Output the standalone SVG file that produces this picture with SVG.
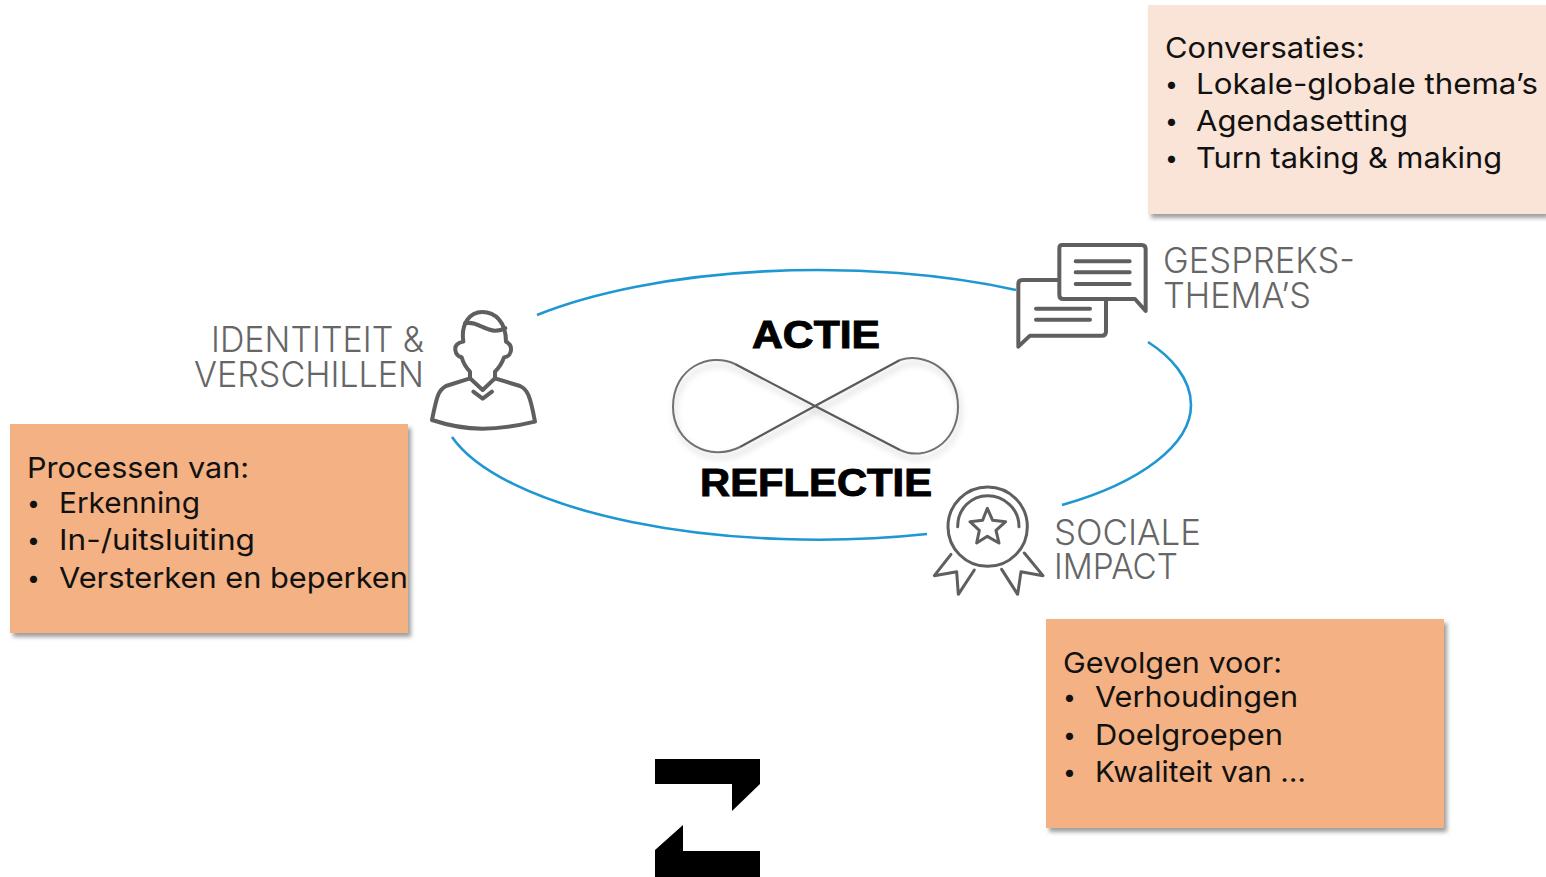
<svg xmlns="http://www.w3.org/2000/svg" width="1546" height="877" viewBox="0 0 1546 877">
<style>
.box{filter:url(#sh)}
.t{font-family:"Inter","Noto Sans",sans-serif;font-size:29px;fill:#111}
.b{font-size:23px}
.g{font-family:"Inter","Noto Sans",sans-serif;font-size:35px;fill:#666;font-weight:300}
.h{font-family:"Liberation Sans",Arial,sans-serif;font-size:39px;font-weight:700;fill:#000;stroke:#000;stroke-width:1}
.i{fill:none;stroke:#5f5f5f;stroke-width:12;stroke-linejoin:round;stroke-linecap:round}
.m{stroke-width:9}
.c{fill:none;stroke:#1f97d2;stroke-width:2.6}
</style>
<defs>
<filter id="sh" x="-5%" y="-5%" width="112%" height="115%"><feDropShadow dx="3" dy="4" stdDeviation="2" flood-color="#000" flood-opacity=".38"/></filter>
<filter id="sh2" x="-5%" y="-5%" width="112%" height="115%"><feDropShadow dx="2" dy="5" stdDeviation="3" flood-color="#000" flood-opacity=".22"/></filter>
</defs>
<g id="connectors">
<path class="c" d="M537 315A378 135.500 0 0 1 1016 290"/>
<path class="c" d="M1148 342C1170 356 1191 378 1191 405C1191 445 1140 483 1062 505"/>
<path class="c" d="M927 534A378 135.500 0 0 1 452 437"/>
</g>
<g id="box-conversaties">
<rect class="box" x="1148" y="5" width="398" height="209" fill="#F9E4D7"/>
<text class="t"><tspan x="1165" y="58" textLength="200" lengthAdjust="spacingAndGlyphs">Conversaties:</tspan><tspan class="b" x="1165" y="92">•</tspan><tspan x="1196" y="94" textLength="342" lengthAdjust="spacingAndGlyphs">Lokale-globale thema’s</tspan><tspan class="b" x="1165" y="129">•</tspan><tspan x="1196" y="131" textLength="212" lengthAdjust="spacingAndGlyphs">Agendasetting</tspan><tspan class="b" x="1165" y="166">•</tspan><tspan x="1196" y="168" textLength="306" lengthAdjust="spacingAndGlyphs">Turn taking &amp; making</tspan></text>
</g>
<g id="box-processen">
<rect class="box" x="10" y="424" width="398" height="209" fill="#F4B183"/>
<text class="t"><tspan x="27" y="478" textLength="222" lengthAdjust="spacingAndGlyphs">Processen van:</tspan><tspan class="b" x="27" y="511">•</tspan><tspan x="59" y="513" textLength="141" lengthAdjust="spacingAndGlyphs">Erkenning</tspan><tspan class="b" x="27" y="548">•</tspan><tspan x="59" y="550" textLength="196" lengthAdjust="spacingAndGlyphs">In-/uitsluiting</tspan><tspan class="b" x="27" y="586">•</tspan><tspan x="59" y="588" textLength="349" lengthAdjust="spacingAndGlyphs">Versterken en beperken</tspan></text>
</g>
<g id="box-gevolgen">
<rect class="box" x="1046" y="619" width="398" height="209" fill="#F4B183"/>
<text class="t"><tspan x="1063" y="673" textLength="219" lengthAdjust="spacingAndGlyphs">Gevolgen voor:</tspan><tspan class="b" x="1063" y="705">•</tspan><tspan x="1095" y="707" textLength="203" lengthAdjust="spacingAndGlyphs">Verhoudingen</tspan><tspan class="b" x="1063" y="743">•</tspan><tspan x="1095" y="745" textLength="188" lengthAdjust="spacingAndGlyphs">Doelgroepen</tspan><tspan class="b" x="1063" y="780">•</tspan><tspan x="1095" y="782" textLength="211" lengthAdjust="spacingAndGlyphs">Kwaliteit van …</tspan></text>
</g>
<g id="node-identiteit">
<text class="g" text-anchor="end"><tspan x="424" y="352" textLength="213" lengthAdjust="spacingAndGlyphs">IDENTITEIT &amp;</tspan><tspan x="424" y="387" textLength="230" lengthAdjust="spacingAndGlyphs">VERSCHILLEN</tspan></text>
<g transform="translate(420 300) scale(.3333)">
<path class="i" d="M130 125C122 70 150 36 187 36C225 36 258 65 258 125C268 130 276 140 272 155C268 170 260 170 252 172C246 190 235 205 225 215L225 235L300 258C322 268 330 285 345 365C290 378 240 386 187 386C135 386 90 378 36 360C50 290 55 270 78 258L150 235L150 215C140 205 130 190 125 172C115 170 108 165 106 150C104 135 115 128 130 125Z"/>
<path class="i" d="M135 70C170 62 190 90 225 92C240 92 250 88 256 84"/>
<path class="i" d="M150 235L188 270L225 235"/>
<path class="i" d="M160 275L188 296L216 275"/>
</g>
</g>
<g id="node-gespreks">
<text class="g"><tspan x="1163" y="273" textLength="192" lengthAdjust="spacingAndGlyphs">GESPREKS-</tspan><tspan x="1163" y="308" textLength="148" lengthAdjust="spacingAndGlyphs">THEMA’S</tspan></text>
<g transform="translate(1005 235) scale(.3333)">
<path class="i" d="M160 135L52 135Q40 135 40 147L40 335L75 302L290 302Q303 302 303 290L303 195"/>
<path class="i" d="M172 30L410 30Q422 30 422 42L422 228L390 192L175 192Q163 192 163 180L163 40Q163 30 172 30Z"/>
<path class="i" d="M212 79H374M212 112H374M212 147H374M93 221H255M93 254H255"/>
</g>
</g>
<g id="node-sociale">
<text class="g"><tspan x="1054" y="545" textLength="147" lengthAdjust="spacingAndGlyphs">SOCIALE</tspan><tspan x="1054" y="579" textLength="124" lengthAdjust="spacingAndGlyphs">IMPACT</tspan></text>
<g transform="translate(925 475) scale(.3333)">
<circle class="i m" cx="188" cy="155" r="119"/>
<path class="i m" d="M98 155C98 100 140 62 188 62C236 62 282 100 282 155"/>
<path class="i m" d="M187 100L203 136L242 140L213 166L222 204L187 184L155 204L163 166L135 140L173 136Z"/>
<path class="i m" d="M78 238L28 302L95 290L100 358L148 285"/>
<path class="i m" d="M298 234L354 302L288 290L278 358L230 283"/>
</g>
</g>
<g id="node-center">
<text class="h" x="752" y="348" textLength="128" lengthAdjust="spacingAndGlyphs">ACTIE</text>
<g fill="none" filter="url(#sh2)">
<path stroke="#707070" stroke-width="2" d="M735 364C710 352 673 367 673 407C673 443 710 462 740 447M900 360C925 352 958 370 958 407C958 443 925 462 900 450"/>
<path stroke="#5a5a5a" stroke-width="2.2" d="M735 364L815 406L900 450M740 447L815 406L900 360"/>
</g>
<text class="h" x="700" y="496" textLength="232" lengthAdjust="spacingAndGlyphs">REFLECTIE</text>
</g>
<g id="logo">
<path fill="#000" d="M655 759H760V784L732 811V784H655Z"/>
<path fill="#000" d="M655 877V850L683 825V851H760V877Z"/>
</g>
</svg>
